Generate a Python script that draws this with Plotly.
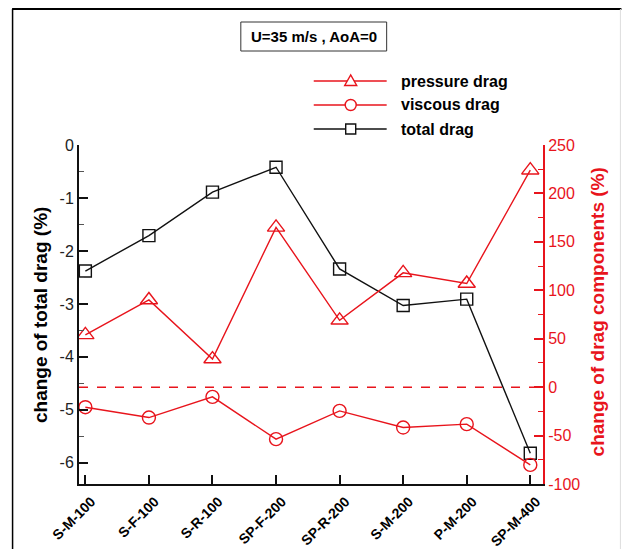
import plotly.graph_objects as go

# Configurations along the x axis
configs = ["S-M-100", "S-F-100", "S-R-100", "SP-F-200", "SP-R-200",
           "S-M-200", "P-M-200", "SP-M-400"]

# Change of total drag (%), left axis
total_drag = [-2.38, -1.71, -0.89, -0.42, -2.34, -3.03, -2.91, -5.82]

# Change of drag components (%), right axis
pressure_drag = [54, 90, 29, 165, 69, 118, 107, 224]
viscous_drag = [-20.7, -31.4, -10, -53.7, -24.5, -41.7, -38.2, -80.3]

left_ticks = [0, -1, -2, -3, -4, -5, -6]
right_ticks = [250, 200, 150, 100, 50, 0, -50, -100]

RED = "#e8141c"
BLACK = "#111111"
FONT = "Liberation Sans, Arial, sans-serif"

W, H = 622, 549
PL, PR, PT, PB = 79, 543.5, 145, 484  # plot area in pixels


def px(x):
    return (x - PL) / (PR - PL)


def py(y):
    return (PB - y) / (PB - PT)


fig = go.Figure()

fig.add_trace(go.Scatter(
    x=configs, y=pressure_drag, yaxis="y2", mode="lines+markers",
    line=dict(color=RED, width=1.4),
    marker=dict(symbol="triangle-up-open", size=15, color=RED,
                line=dict(width=1.4, color=RED)),
    name="pressure drag", showlegend=False))

fig.add_trace(go.Scatter(
    x=configs, y=viscous_drag, yaxis="y2", mode="lines+markers",
    line=dict(color=RED, width=1.4),
    marker=dict(symbol="circle-open", size=13, color=RED,
                line=dict(width=1.4, color=RED)),
    name="viscous drag", showlegend=False))

fig.add_trace(go.Scatter(
    x=configs, y=total_drag, yaxis="y", mode="lines+markers",
    line=dict(color=BLACK, width=1.4),
    marker=dict(symbol="square-open", size=12, color=BLACK,
                line=dict(width=1.4, color=BLACK)),
    name="total drag", showlegend=False))

shapes = []
annotations = []

# zero line of the component axis
shapes.append(dict(type="line", xref="paper", x0=0, x1=1, yref="y2", y0=0, y1=0,
                   line=dict(color=RED, width=1.5, dash="dash"), layer="below"))

# outer frame
shapes.append(dict(type="line", xref="paper", yref="paper",
                   x0=px(12), x1=px(622), y0=py(9), y1=py(9),
                   line=dict(color="black", width=2)))
shapes.append(dict(type="line", xref="paper", yref="paper",
                   x0=px(12.5), x1=px(12.5), y0=py(9), y1=py(549),
                   line=dict(color="black", width=1.5)))
shapes.append(dict(type="line", xref="paper", yref="paper",
                   x0=px(621), x1=px(621), y0=py(9), y1=py(549),
                   line=dict(color="#dddddd", width=1)))

# condition box
shapes.append(dict(type="rect", xref="paper", yref="paper",
                   x0=px(241), x1=px(387), y0=py(51), y1=py(22),
                   line=dict(color="#333333", width=1), fillcolor="white"))
annotations.append(dict(xref="paper", yref="paper", x=px(314), y=py(36.5),
                        text="<b>U=35 m/s , AoA=0</b>", showarrow=False,
                        font=dict(family=FONT, size=15, color="black"),
                        xanchor="center", yanchor="middle"))

# legend
legend_rows = [("pressure drag", RED, "tri", 81),
               ("viscous drag", RED, "circ", 105),
               ("total drag", BLACK, "sq", 129)]
mx = 351
for label, col, sym, ry in legend_rows:
    shapes.append(dict(type="line", xref="paper", yref="paper",
                       x0=px(314), x1=px(387), y0=py(ry), y1=py(ry),
                       line=dict(color=col, width=1.4)))
    if sym == "tri":
        path = f"M {-6},{-4.5} L 6,{-4.5} L 0,6 Z"
        shapes.append(dict(type="path", xref="paper", yref="paper",
                           xsizemode="pixel", ysizemode="pixel",
                           xanchor=px(mx), yanchor=py(ry), path=path,
                           line=dict(color=col, width=1.4), fillcolor="white"))
    elif sym == "circ":
        shapes.append(dict(type="circle", xref="paper", yref="paper",
                           xsizemode="pixel", ysizemode="pixel",
                           xanchor=px(mx), yanchor=py(ry),
                           x0=-5.5, x1=5.5, y0=-5.5, y1=5.5,
                           line=dict(color=col, width=1.4), fillcolor="white"))
    else:
        shapes.append(dict(type="rect", xref="paper", yref="paper",
                           xsizemode="pixel", ysizemode="pixel",
                           xanchor=px(mx), yanchor=py(ry),
                           x0=-5, x1=5, y0=-5, y1=5,
                           line=dict(color=col, width=1.4), fillcolor="white"))
    annotations.append(dict(xref="paper", yref="paper", x=px(399), y=py(ry),
                            text=f"<b>{label}</b>", showarrow=False,
                            font=dict(family=FONT, size=16, color="black"),
                            xanchor="left", yanchor="middle"))

# axis titles
annotations.append(dict(xref="paper", yref="paper", x=px(40), y=py(315),
                        text="<b>change of total drag (%)</b>", showarrow=False,
                        textangle=-90, font=dict(family=FONT, size=19, color="black"),
                        xanchor="center", yanchor="middle"))
annotations.append(dict(xref="paper", yref="paper", x=px(598), y=py(312),
                        text="<b>change of drag components (%)</b>", showarrow=False,
                        textangle=-90, font=dict(family=FONT, size=19, color=RED),
                        xanchor="center", yanchor="middle"))

fig.update_layout(
    width=W, height=H,
    margin=dict(l=PL, r=W - PR, t=PT, b=H - PB, pad=0, autoexpand=False),
    paper_bgcolor="white", plot_bgcolor="white",
    showlegend=False,
    shapes=shapes, annotations=annotations,
    xaxis=dict(
        type="category", range=[-0.1, 7.2], automargin=False,
        showgrid=False, zeroline=False,
        showline=True, linecolor=BLACK, linewidth=2,
        ticks="inside", ticklen=9, tickwidth=2, tickcolor=BLACK,
        tickangle=-45, ticklabelshift=6, ticklabelstandoff=2,
        tickfont=dict(family=FONT, size=14, color="black", weight="bold"),
    ),
    yaxis=dict(
        range=[-6.4, 0], automargin=False,
        showgrid=False, zeroline=False,
        showline=True, linecolor=BLACK, linewidth=2,
        ticks="inside", ticklen=9, tickwidth=2, tickcolor=BLACK,
        tickvals=left_ticks, ticktext=[str(v) for v in left_ticks],
        tickfont=dict(family=FONT, size=16, color="#222222"),
        minor=dict(ticks="inside", ticklen=5, tickwidth=1, tickcolor="#555555",
                   tickvals=[v - 0.5 for v in left_ticks]),
    ),
    yaxis2=dict(
        range=[-100, 250], overlaying="y", side="right", automargin=False,
        showgrid=False, zeroline=False,
        showline=True, linecolor=RED, linewidth=2,
        ticks="inside", ticklen=9, tickwidth=2, tickcolor=RED,
        tickvals=right_ticks, ticktext=[str(v) for v in right_ticks],
        tickfont=dict(family=FONT, size=16, color=RED),
        minor=dict(ticks="inside", ticklen=5, tickwidth=1, tickcolor=RED,
                   tickvals=[v - 25 for v in right_ticks]),
    ),
)

fig.write_html("out.html")
